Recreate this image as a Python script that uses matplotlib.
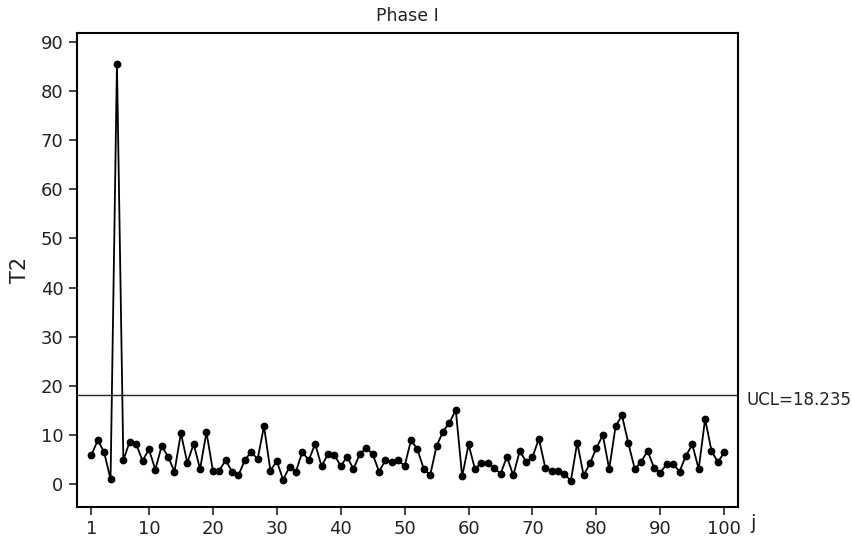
import numpy as np
import matplotlib
matplotlib.use('Agg')
import matplotlib.pyplot as plt
import matplotlib.transforms as mtransforms

t2 = [5.9, 9.0, 6.5, 1.0, 85.5, 4.9, 8.7, 8.2, 4.8, 7.1,
      3.0, 7.8, 5.6, 2.6, 10.4, 4.4, 8.2, 3.1, 10.6, 2.8,
      2.8, 4.9, 2.6, 1.8, 4.9, 6.6, 5.1, 11.8, 2.8, 4.7,
      0.9, 3.6, 2.6, 6.6, 4.9, 8.2, 3.7, 6.1, 6.0, 3.7,
      5.6, 3.1, 6.2, 7.4, 6.1, 2.6, 4.9, 4.6, 4.9, 3.7,
      9.0, 7.1, 3.1, 1.9, 7.8, 10.7, 12.5, 15.1, 1.6, 8.1,
      3.1, 4.4, 4.4, 3.4, 2.1, 5.6, 1.8, 6.8, 4.6, 5.5,
      9.3, 3.4, 2.7, 2.7, 2.1, 0.7, 8.5, 1.8, 4.3, 7.4,
      10.0, 3.1, 11.8, 14.0, 8.3, 3.1, 4.6, 6.8, 3.4, 2.4,
      4.1, 4.1, 2.6, 5.8, 8.1, 3.1, 13.3, 6.8, 4.5, 6.5]
obs = np.arange(1, len(t2) + 1)
ucl = 18.235

xticks = [1, 10, 20, 30, 40, 50, 60, 70, 80, 90, 100]
yticks = [0, 10, 20, 30, 40, 50, 60, 70, 80, 90]

plt.rcParams['font.family'] = ['DejaVu Sans']

fig = plt.figure(figsize=(8.52, 5.4), dpi=100)
ax = fig.add_axes([0.09, 0.0617, 0.7766, 0.8766])

ax.plot(obs, t2, color='black', linewidth=1.3, marker='o', markersize=4.6)
ax.axhline(ucl, color='#222222', linewidth=1.0)

ax.set_xlim(-1.3, 102.2)
ax.set_ylim(-4.55, 91.7)
ax.set_xticks(xticks)
ax.set_yticks(yticks)
ax.tick_params(direction='out', length=6, width=1.2, labelsize=13, colors='#222222')
for s in ax.spines.values():
    s.set_linewidth(1.5)

ax.set_title('Phase I', fontsize=12.5, pad=9, color='#222222')
ax.set_ylabel('T2', fontsize=15, labelpad=8, color='#222222')

# UCL label and the "j" axis name sit just outside the right spine
trans = mtransforms.blended_transform_factory(ax.transAxes, ax.transData)
ax.text(1.013, ucl - 1.0, 'UCL=18.235', transform=trans, ha='left', va='center',
        fontsize=12, color='#222222')
fig.text(0.881, 0.03, 'j', fontsize=14, ha='left', va='center', color='#222222')

fig.savefig('out.png', dpi=100)
